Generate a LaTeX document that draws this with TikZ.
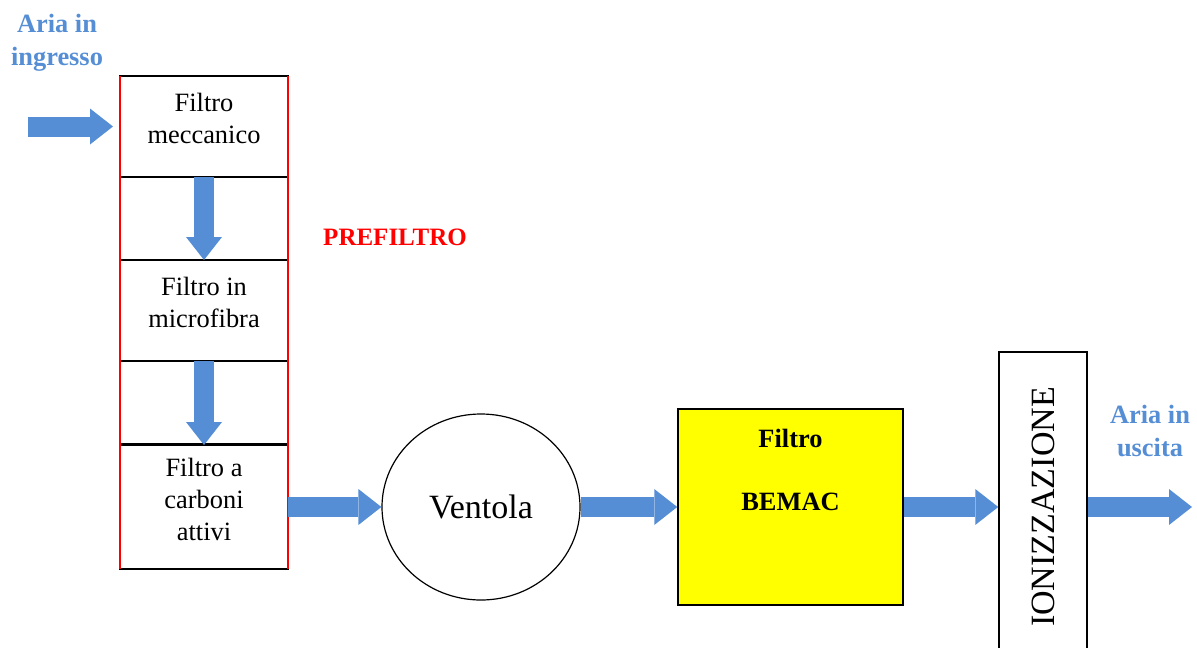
\documentclass[tikz,border=0pt]{standalone}
\usepackage{fontspec}
\setmainfont{Liberation Serif}
\usetikzlibrary{arrows.meta,shapes.geometric}
\definecolor{airblue}{RGB}{85,142,213}
\definecolor{prered}{RGB}{255,0,0}
\definecolor{bemacyellow}{RGB}{255,255,0}
\tikzset{
  stage/.style    = {draw, line width=1.5pt, outer sep=0pt, minimum width=168pt, align=center,
                     text depth=16pt, font=\fontsize{26.4}{32}\selectfont},
  flow/.style     = {airblue, line width=20pt,
                     -{Triangle[width=36pt,length=23pt,line width=0pt]}},
  flowback/.style = {airblue, line width=20pt,
                     {Triangle[width=36pt,length=23pt,line width=0pt]}-},
  airlabel/.style = {airblue, align=center, font=\fontsize{26.4}{33}\selectfont\bfseries},
}
\begin{document}
\begin{tikzpicture}[x=1pt,y=-1pt]
  \useasboundingbox (0,0) rectangle (1197,648);
  % prefiltro
  \node[stage, minimum height=101pt] (mecc)  at (204,126.5) {Filtro\\meccanico};
  \node[stage, minimum height=83pt]  (gap1)  at (204,218.5) {};
  \node[stage, minimum height=101pt] (micro) at (204,310.5) {Filtro in\\microfibra}
                                       edge [flowback] (mecc);
  \node[stage, minimum height=83pt]  (gap2)  at (204,402.5) {};
  \node[stage, minimum height=124pt] (carb)  at (204,507)   {Filtro a\\carboni\\attivi}
                                       edge [flowback] (micro);
  \draw[prered, line width=2pt] (mecc.north west) -- (carb.south west)
                                (mecc.north east) -- (carb.south east);
  \node[prered, font=\fontsize{25}{30}\selectfont\bfseries] (pre) at (395,237) {PREFILTRO};
  % ingresso
  \node[airlabel] (ingr) at (57,43) {Aria in\\ingresso};
  \coordinate (in) at (28,126.5);
  \draw[flow, shorten >=7pt] (in) -- (mecc);
  % linea principale
  \node[draw, line width=1.2pt, ellipse, minimum width=198pt, minimum height=186pt,
        font=\fontsize{34}{40}\selectfont] (vent) at (481,507) {Ventola}
                                       edge [flowback] (carb);
  \node[draw, line width=1.5pt, fill=bemacyellow, minimum width=225pt, minimum height=196pt,
        align=center, text depth=75pt, font=\fontsize{26.4}{31.5}\selectfont\bfseries]
        (bemac) at (790.5,507) {Filtro\\[31.5pt]BEMAC}
                                       edge [flowback] (vent);
  \node[draw, line width=1.5pt, rotate=90, minimum width=310pt, minimum height=88pt,
        font=\fontsize{34}{40}\selectfont] (ion) at (1043,507) {IONIZZAZIONE}
                                       edge [flowback] (bemac);
  % uscita
  \node[airlabel] (usc) at (1150,431) {Aria in\\uscita};
  \coordinate (out) at (1192,507);
  \draw[flow] (ion) -- (out);
\end{tikzpicture}
\end{document}
